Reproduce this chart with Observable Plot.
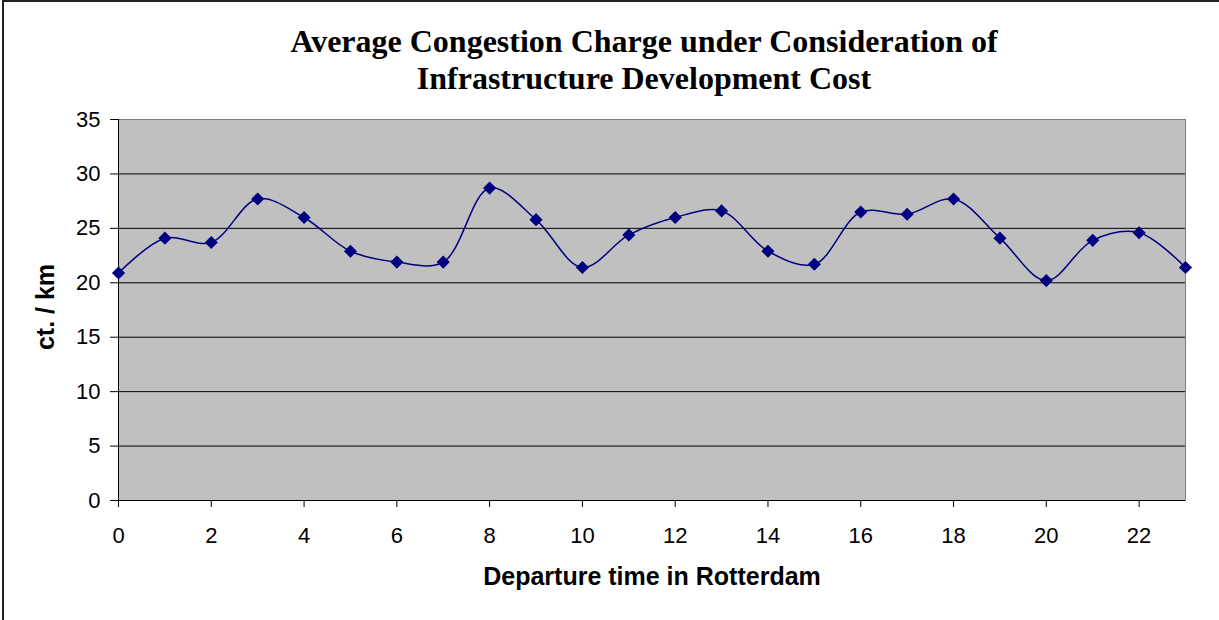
<!DOCTYPE html>
<html>
<head>
<meta charset="utf-8">
<script src="https://cdn.jsdelivr.net/npm/d3@7"></script>
<script src="https://cdn.jsdelivr.net/npm/@observablehq/plot@0.6"></script>
<style>
  html, body { margin: 0; padding: 0; background: #fff; }
  #wrap { position: relative; width: 1219px; height: 620px; overflow: hidden; }
  #border { position: absolute; left: 2px; top: 0; width: 1220px; height: 630px; box-sizing: border-box; border-left: 2px solid #222; border-top: 2px solid #222; pointer-events: none; }
</style>
</head>
<body>
<div id="wrap"><div id="chart"></div><div id="border"></div></div>
<script>
const hours = d3.range(0, 24);
const charge = [20.9, 24.1, 23.7, 27.7, 26.0, 22.9, 21.9, 21.9, 28.7, 25.8, 21.4, 24.4,
                26.0, 26.6, 22.9, 21.7, 26.5, 26.3, 27.7, 24.1, 20.2, 23.9, 24.6, 21.4];
const xTicks = [0, 2, 4, 6, 8, 10, 12, 14, 16, 18, 20, 22];
const yTicks = [0, 5, 10, 15, 20, 25, 30, 35];
const titleLines = ["Average Congestion Charge under Consideration of", "Infrastructure Development Cost"];
const xLabel = "Departure time in Rotterdam";
const yLabel = "ct. / km";

const data = hours.map((h, i) => ({hour: h, value: charge[i]}));
const serif = "Liberation Serif, Times New Roman, serif";

const chart = Plot.plot({
  width: 1219,
  height: 620,
  marginTop: 119,
  marginBottom: 120,
  marginLeft: 118,
  marginRight: 34,
  style: {fontFamily: "Liberation Sans, Arial, sans-serif", background: "transparent"},
  x: {domain: [0, 23]},
  y: {domain: [0, 35]},
  marks: [
    Plot.frame({fill: "#c0c0c0", stroke: "#808080"}),
    Plot.gridY(yTicks.filter(d => d > 0 && d < 35), {stroke: "#000", strokeOpacity: 1, strokeWidth: 1}),
    Plot.ruleX([0], {stroke: "#000"}),
    Plot.ruleY([0], {stroke: "#000"}),
    Plot.axisY(yTicks, {tickSize: 8, tickPadding: 10, fontSize: 22, label: null, stroke: "#000"}),
    Plot.axisX(xTicks, {tickSize: 7, tickPadding: 20, fontSize: 22, label: null, stroke: "#000"}),
    Plot.line(data, {x: "hour", y: "value", stroke: "#000080", strokeWidth: 1.5, curve: "catmull-rom"}),
    Plot.dot(data, {x: "hour", y: "value", symbol: "square", rotate: 45, r: 4.4, fill: "#000080", stroke: "#000080"}),
    Plot.text([yLabel], {frameAnchor: "left", textAnchor: "middle", lineAnchor: "middle", rotate: -90, dx: -73, dy: -3, fontSize: 25, fontWeight: "bold", fill: "#000"}),
    Plot.text([xLabel], {frameAnchor: "bottom", textAnchor: "middle", lineAnchor: "middle", dy: 76, fontSize: 25, fontWeight: "bold", fill: "#000"}),
    Plot.text([titleLines[0]], {frameAnchor: "top", textAnchor: "middle", lineAnchor: "middle", dy: -78, dx: -8, fontSize: 32, fontWeight: "bold", fontFamily: serif, fill: "#000"}),
    Plot.text([titleLines[1]], {frameAnchor: "top", textAnchor: "middle", lineAnchor: "middle", dy: -41, dx: -8, fontSize: 32, fontWeight: "bold", fontFamily: serif, fill: "#000"})
  ]
});
document.getElementById("chart").appendChild(chart);
</script>
</body>
</html>
